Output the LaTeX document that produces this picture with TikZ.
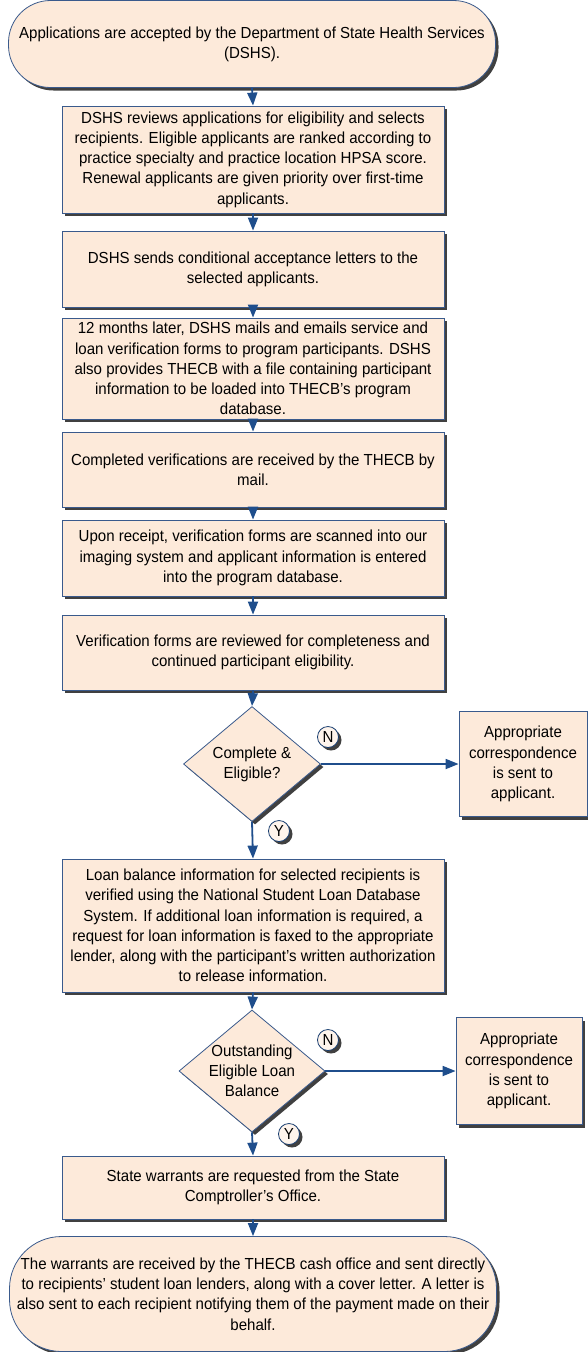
\documentclass[tikz,border=0pt]{standalone}
\usepackage{fontspec}
\setmainfont{Liberation Sans}[FakeStretch=0.94]
\usepackage{tikz}
\usetikzlibrary{arrows.meta}
\usetikzlibrary{shapes.geometric}
\usetikzlibrary{shadows}

\definecolor{peach}{HTML}{FDEADA}
\definecolor{lightpeach}{HTML}{FEF4EC}
\definecolor{edgeblue}{HTML}{3A5A8C}
\definecolor{arrowblue}{HTML}{1F4E8C}
\definecolor{shadowgray}{HTML}{404040}

\tikzset{
	txt/.style={font=\fontsize{16}{20.2}\selectfont, align=center},
	shade/.style={drop shadow={shadow xshift=3pt, shadow yshift=-3pt, fill=shadowgray, opacity=1}},
	procbox/.style={txt, shade, draw=edgeblue, fill=peach, line width=0.8pt, inner sep=1pt, minimum width=382pt},
	termbox/.style={procbox, minimum width=487pt},
	decision/.style={diamond, shade, draw=edgeblue, fill=peach, line width=0.8pt, inner sep=0pt},
	answer/.style={circle, shade, draw=arrowblue!80!black, fill=lightpeach, line width=0.8pt, inner sep=0pt, minimum size=21pt, font=\fontsize{16}{18}\selectfont},
	flow/.style={draw=arrowblue, line width=1.8pt, -{Triangle[length=13pt,width=10pt]}}
}

\begin{document}
\begin{tikzpicture}[x=1pt,y=-1pt]
		\useasboundingbox (0,0) rectangle (588,1352);
		
		% start and end terminals
		\node[termbox, rounded corners=42pt, minimum height=87pt] (apply) at (252,44) {Applications are accepted by the Department of State Health Services\\(DSHS).};
		\node[termbox, rounded corners=52pt, minimum height=115pt] (paid) at (253,1294) {The warrants are received by the THECB cash office and sent directly\\to recipients’ student loan lenders, along with a cover letter. A letter is\\also sent to each recipient notifying them of the payment made on their\\behalf.};
		
		% process steps in the main column
		\node[procbox, minimum height=107pt] (review) at (253,159.5) {DSHS reviews applications for eligibility and selects\\recipients. Eligible applicants are ranked according to\\practice specialty and practice location HPSA score.\\Renewal applicants are given priority over first-time\\applicants.};
		\node[procbox, minimum height=76pt] (accept) at (253,269) {DSHS sends conditional acceptance letters to the\\selected applicants.};
		\node[procbox, minimum height=101pt] (forms) at (253,368.5) {12 months later, DSHS mails and emails service and\\loan verification forms to program participants. DSHS\\also provides THECB with a file containing participant\\information to be loaded into THECB’s program\\database.};
		\node[procbox, minimum height=75pt] (received) at (253,469.5) {Completed verifications are received by the THECB by\\mail.};
		\node[procbox, minimum height=76pt] (scan) at (253,558) {Upon receipt, verification forms are scanned into our\\imaging system and applicant information is entered\\into the program database.};
		\node[procbox, minimum height=75pt] (check) at (253,652.5) {Verification forms are reviewed for completeness and\\continued participant eligibility.};
		\node[procbox, minimum height=133pt] (loan) at (253,925.5) {Loan balance information for selected recipients is\\verified using the National Student Loan Database\\System. If additional loan information is required, a\\request for loan information is faxed to the appropriate\\lender, along with the participant’s written authorization\\to release information.};
		\node[procbox, minimum height=63pt] (warrant) at (253,1187.5) {State warrants are requested from the State\\Comptroller’s Office.};
		
		% decisions
		\node[decision, minimum width=137pt, minimum height=115pt, label={[txt]center:Complete \&\\Eligible?}] (eligible) at (252,764) {};
		\node[decision, minimum width=146pt, minimum height=122pt, label={[txt]center:Outstanding\\Eligible Loan\\Balance}] (balance) at (252,1071) {};
		
		% side boxes for the N branch
		\node[procbox, minimum width=128pt, minimum height=105pt] (corr1) at (523,764) {Appropriate\\correspondence\\is sent to\\applicant.};
		\node[procbox, minimum width=126pt, minimum height=107pt] (corr2) at (519,1071) {Appropriate\\correspondence\\is sent to\\applicant.};
		
		% branch markers
		\node[answer] (no1) at (328,737) {N};
		\node[answer] (yes1) at (279,831) {Y};
		\node[answer] (no2) at (328,1040) {N};
		\node[answer] (yes2) at (289,1134) {Y};
		
		% main flow
		\draw[flow] (apply.south) -- (review.north);
		\draw[flow] (review.south) -- (accept.north);
		\draw[flow] (accept.south) -- (forms.north);
		\draw[flow] (forms.south) -- (received.north);
		\draw[flow] (received.south) -- (scan.north);
		\draw[flow] (scan.south) -- (check.north);
		\draw[flow] (check.south) -- (eligible.north);
		\draw[flow] (eligible.south) -- (loan.north);
		\draw[flow] (loan.south) -- (balance.north);
		\draw[flow] (balance.south) -- (warrant.north);
		\draw[flow] (warrant.south) -- (paid.north);
		
		% N branches
		\draw[flow] (eligible.east) -- (corr1.west);
		\draw[flow] (balance.east) -- (corr2.west);
	\end{tikzpicture}
\end{document}
